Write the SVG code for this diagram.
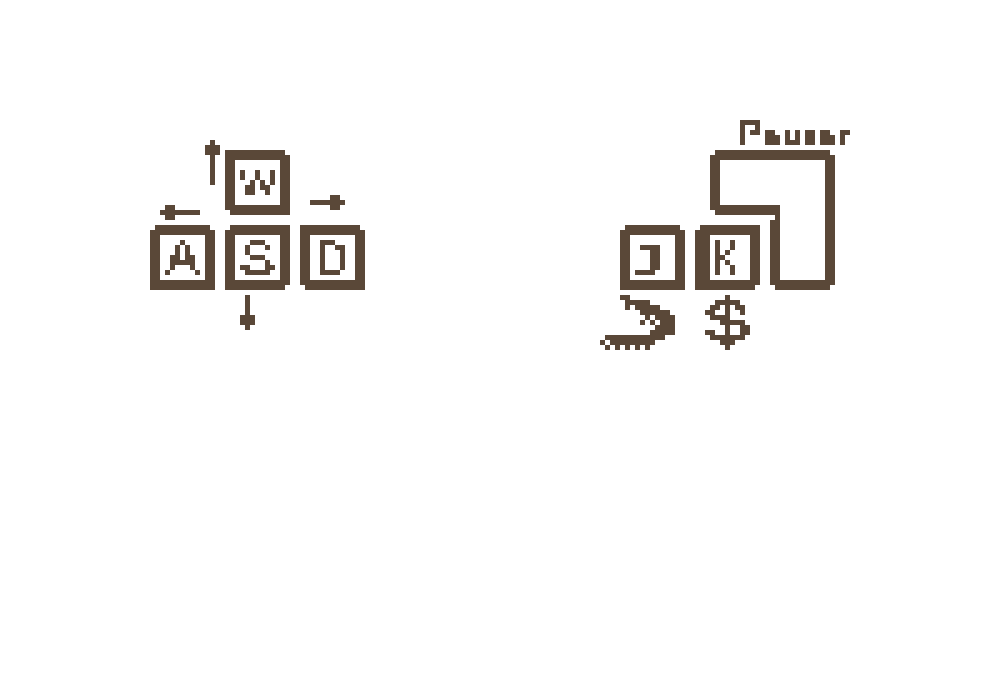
<svg xmlns="http://www.w3.org/2000/svg" width="1000" height="700" viewBox="0 0 1000 700">
<style>
.s{fill:#5a4838;fill-rule:evenodd;shape-rendering:crispEdges}
text{fill:#5a4838;stroke:#5a4838;stroke-width:.4;font-family:"Liberation Sans",Arial,sans-serif;filter:url(#px)}
</style>
<defs>
<filter id="px" filterUnits="userSpaceOnUse" primitiveUnits="userSpaceOnUse" x="0" y="0" width="1000" height="700" color-interpolation-filters="sRGB">
<feFlood x="2" y="2" width="1" height="1" flood-color="#000"/>
<feComposite width="5" height="5"/>
<feTile result="g"/>
<feComposite in="SourceAlpha" in2="g" operator="in"/>
<feMorphology operator="dilate" radius="2"/>
<feComponentTransfer result="m"><feFuncA type="discrete" tableValues="0 1 1"/></feComponentTransfer>
<feFlood flood-color="#5a4838" x="0" y="0" width="1000" height="700"/>
<feComposite in2="m" operator="in"/>
</filter>
</defs>
<rect width="1000" height="700" fill="#fff"/>
<g id="connectors">
<path class="s" d="M210 140H215V145H220V155H215V185H210V155H205V145H210Z"/>
<path class="s" d="M160 210H165V205H175V210H200V215H175V220H165V215H160Z"/>
<path class="s" d="M310 200H330V195H340V200H345V205H340V210H330V205H310Z"/>
<path class="s" d="M245 295H250V315H255V325H250V330H245V325H240V315H245Z"/>
</g>
<g id="key-w">
<path class="s" d="M225 150H285V155H290V215H230V210H225ZM235 160V205H280V160Z"/>
<text x="239" y="195" font-size="35" style="stroke-width:.3" textLength="38" lengthAdjust="spacingAndGlyphs">W</text>
</g>
<g id="key-a">
<path class="s" d="M155 225H210V230H215V290H150V230H155ZM160 235V280H205V235Z"/>
<text x="165" y="275" font-size="49" textLength="35" lengthAdjust="spacingAndGlyphs">A</text>
</g>
<g id="key-s">
<path class="s" d="M230 225H290V285H285V290H225V230H230ZM235 235V280H280V235Z"/>
<text x="240" y="275" font-size="49" textLength="35" lengthAdjust="spacingAndGlyphs">S</text>
</g>
<g id="key-d">
<path class="s" d="M300 225H360V230H365V290H305V285H300ZM310 235V280H355V235Z"/>
<text x="318" y="275" font-size="49" textLength="29" lengthAdjust="spacingAndGlyphs">D</text>
</g>
<g id="key-j">
<path class="s" d="M625 225H680V230H685V290H620V230H625ZM630 235V280H675V235Z"/>
<text x="633" y="275" font-size="42" style="font-family:'DejaVu Sans Mono',monospace" textLength="32" lengthAdjust="spacingAndGlyphs">J</text>
</g>
<g id="key-k">
<path class="s" d="M700 225H760V285H755V290H695V230H700ZM710 235V280H750V235Z"/>
<text x="714" y="275" font-size="49" textLength="24" lengthAdjust="spacingAndGlyphs">K</text>
</g>
<g id="key-pause">
<path class="s" d="M715 150H830V155H835V285H830V290H775V285H770V220H775V215H715V210H710V155H715ZM720 160V205H780V280H825V160Z"/>
<text y="145" font-size="35" style="stroke-width:.7"><tspan x="738">P</tspan><tspan x="764 784 804 819 840" font-size="28">ausar</tspan></text>
</g>
<g id="attack-icon">
<path class="s" d="M620 295h10v5h-10zM625 300h25v5h-25zM625 305h5v5h-5zM635 305h25v5h-25zM640 310h30v5h-30zM645 315h5v5h-5zM655 315h20v5h-20zM640 320h5v5h-5zM650 320h5v5h-5zM660 320h15v5h-15zM655 325h20v5h-20zM650 330h25v5h-25zM605 335h60v5h-60zM600 340h5v5h-5zM610 340h45v5h-45zM605 345h5v5h-5zM615 345h5v5h-5zM625 345h5v5h-5zM635 345h5v5h-5zM645 345h5v5h-5z"/>
</g>
<g id="dollar">
<text x="705" y="343" font-size="62" style="stroke-width:1.6" textLength="45" lengthAdjust="spacingAndGlyphs">$</text>
</g>
</svg>
